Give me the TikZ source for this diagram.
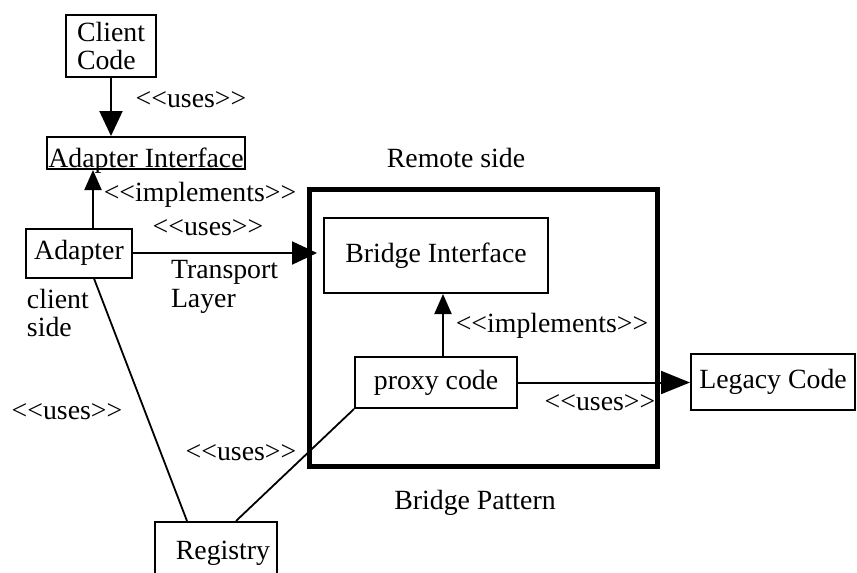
\documentclass[tikz,border=0pt]{standalone}
\usepackage{fontspec}
\setmainfont{Liberation Serif}
\usetikzlibrary{arrows.meta}
\newcommand{\stereo}[1]{<\kern0pt<#1>\kern0pt>}
\begin{document}
\begin{tikzpicture}[x=1pt, y=-1pt, line width=2pt,
  font=\fontsize{27.8}{28.5}\selectfont,
  box/.style={draw, inner sep=0pt, minimum width=#1},
  lbl/.style={inner sep=0pt},
  bighead/.style={-{Triangle[length=25pt, width=23pt]}},
  smallhead/.style={-{Triangle[length=20pt, width=17pt]}}]
\useasboundingbox (0,0) rectangle (857,573);

% Client side
\node[box=90pt, minimum height=62pt, align=left] (client) at (111,46) {Client\\Code};
\node[box=198pt, minimum height=32pt, text height=30pt, text depth=2pt] (adaptif) at (146,153) {Adapter Interface};
\node[box=106pt, minimum height=49pt] (adapter) at (79,253) {Adapter};
\node[box=122pt, minimum height=62pt] (registry) at (216,553) {\hspace{14pt}Registry};

% Remote side
\node[draw, line width=5pt, minimum width=348pt, minimum height=277pt] (remote) at (483,327.5) {};
\node[box=224pt, minimum height=75pt] (bridge) at (436,255.5) {Bridge Interface};
\node[box=162pt, minimum height=51pt] (proxy) at (436,382.5) {proxy code};
\node[box=164pt, minimum height=56pt] (legacy) at (773,382) {Legacy Code};

% Labels
\node[lbl] (usesclient) at (191,100) {\stereo{uses}};
\node[lbl] (implleft) at (200,195) {\stereo{implements}};
\node[lbl] (usestransport) at (208,228) {\stereo{uses}};
\node[lbl, align=left, anchor=west] (transport) at (170,287) {Transport\\Layer};
\node[lbl, align=left, anchor=west] (clientside) at (26,313) {client\\side};
\node[lbl] (usesleft) at (67,412) {\stereo{uses}};
\node[lbl] (usesregistry) at (241,453) {\stereo{uses}};
\node[lbl] (remoteside) at (456,158) {Remote side};
\node[lbl] (implright) at (552,326) {\stereo{implements}};
\node[lbl] (useslegacy) at (600,403) {\stereo{uses}};
\node[lbl] (pattern) at (475,503) {Bridge Pattern};

% Connectors
\draw[bighead] (client.south) -- (client.south |- adaptif.north);
\draw[smallhead] ([xshift=14pt]adapter.north) -- ([xshift=14pt]adapter.north |- adaptif.south);
\draw[bighead, shorten >=6pt] (adapter.east) -- (bridge.west |- adapter.east);
\draw[smallhead] ([xshift=7pt]proxy.north) -- ([xshift=7pt]proxy.north |- bridge.south);
\draw[-{Triangle[length=29pt, width=23pt]}] (proxy.east) -- (legacy.west |- proxy.east);
\draw[line width=1.8pt] ([xshift=15pt]adapter.south) -- ([xshift=-29pt]registry.north);
\draw[line width=1.8pt] (proxy.south west) -- ([xshift=20pt]registry.north);

\end{tikzpicture}
\end{document}
